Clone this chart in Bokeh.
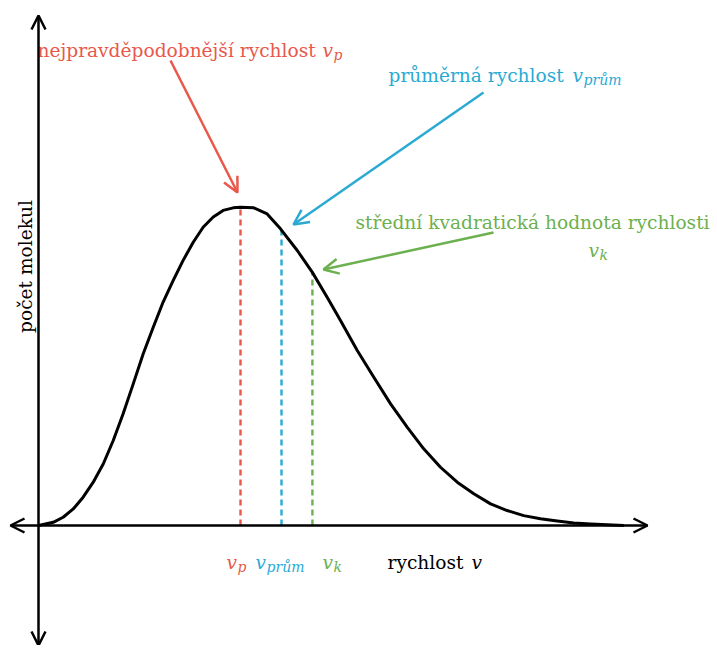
import math
from bokeh.plotting import figure
from bokeh.models import ColumnDataSource, Arrow, OpenHead, Range1d
from bokeh.core.properties import value
from bokeh.embed import file_html
from bokeh.resources import INLINE

# ---- data (speed in units of v_p, count relative to peak) ----
speed = [0.0, 0.073, 0.122, 0.172, 0.221, 0.271, 0.321, 0.370, 0.419, 0.469, 0.518,
         0.568, 0.617, 0.667, 0.716, 0.766, 0.815, 0.865, 0.914, 0.964, 1.0,
         1.066, 1.132, 1.198, 1.281, 1.355, 1.429, 1.495, 1.578, 1.660, 1.743,
         1.825, 1.907, 1.990, 2.073, 2.155, 2.238, 2.320, 2.402, 2.485, 2.568,
         2.650, 2.733, 2.815, 2.898]
count = [0.0, 0.010, 0.026, 0.052, 0.089, 0.136, 0.194, 0.267, 0.351, 0.445, 0.539,
         0.623, 0.702, 0.770, 0.833, 0.890, 0.937, 0.969, 0.990, 0.998, 1.0,
         0.998, 0.979, 0.932, 0.864, 0.796, 0.717, 0.644, 0.550, 0.466, 0.382,
         0.309, 0.241, 0.183, 0.136, 0.100, 0.068, 0.047, 0.031, 0.021, 0.014,
         0.008, 0.005, 0.002, 0.0]

marker_names = ["p", "prům", "k"]
marker_speed = [1.0, 1.203, 1.356]
marker_height = [1.0, 0.930, 0.796]
marker_colors = ["#e8584b", "#2aaad3", "#6cb04f"]

title_vp = "nejpravděpodobnější rychlost "
title_vprum = "průměrná rychlost "
title_vk = "střední kvadratická hodnota rychlosti"
x_label = "rychlost "
y_label = "počet molekul"

W, H = 712, 645
px_per_x = 202.0
px_per_y = 318.3
x0_px, y0_px = 38.0, 525.0

p = figure(width=W, height=H, output_backend="svg", toolbar_location=None,
           x_range=Range1d(-x0_px / px_per_x, (W - x0_px) / px_per_x),
           y_range=Range1d(-(H - y0_px) / px_per_y, y0_px / px_per_y),
           min_border=0, outline_line_color=None)
p.axis.visible = False
p.grid.visible = False
p.background_fill_color = "white"
p.border_fill_color = "white"

FONT = value("DejaVu Serif")
FS = "18.6px"
SUB = "14px"

def X(px):
    return (px - x0_px) / px_per_x

def Y(py):
    return (y0_px - py) / px_per_y

# axes with arrowheads
p.add_layout(Arrow(start=OpenHead(size=14, line_width=2.5, line_color="black"),
                   end=OpenHead(size=14, line_width=2.5, line_color="black"),
                   x_start=X(10), y_start=0, x_end=X(647), y_end=0,
                   line_width=2.5, line_color="black"))
p.add_layout(Arrow(start=OpenHead(size=14, line_width=2.5, line_color="black"),
                   end=OpenHead(size=14, line_width=2.5, line_color="black"),
                   x_start=0, y_start=Y(645), x_end=0, y_end=Y(15),
                   line_width=2.5, line_color="black"))

# dashed marker lines
msrc = ColumnDataSource(dict(x=marker_speed, y0=[0] * 3, y1=marker_height, c=marker_colors))
p.segment(x0="x", y0="y0", x1="x", y1="y1", source=msrc, line_color="c",
          line_width=2.4, line_dash="6 4")

# distribution curve
p.line(speed, count, line_color="black", line_width=3, line_join="round")

# annotation arrows
def arrow(xs, ys, xe, ye, col):
    p.add_layout(Arrow(end=OpenHead(size=15, line_width=2.5, line_color=col),
                       x_start=X(xs), y_start=Y(ys), x_end=X(xe), y_end=Y(ye),
                       line_width=2.5, line_color=col))

arrow(170, 60, 237, 192, marker_colors[0])
arrow(483, 92, 293, 224, marker_colors[1])
arrow(493, 232, 323, 269, marker_colors[2])

def txt(x, y, s, col, size=FS, style="normal", align="left"):
    p.text(x=[x], y=[y], text=[s], text_color=col, text_font=FONT,
           text_font_size=size, text_font_style=style, text_align=align,
           text_baseline="alphabetic")

def math_v(xpx, ypx, sub, col):
    txt(X(xpx), Y(ypx), "v", col, style="italic")
    if sub:
        txt(X(xpx + 11), Y(ypx + 4), sub, col, size=SUB, style="italic")

# top labels
txt(X(37), Y(50), title_vp, marker_colors[0])
math_v(322, 50, marker_names[0], marker_colors[0])
txt(X(388), Y(75), title_vprum, marker_colors[1])
math_v(572, 75, marker_names[1], marker_colors[1])
txt(X(355), Y(222), title_vk, marker_colors[2])
math_v(588, 250, marker_names[2], marker_colors[2])

# bottom labels
math_v(226, 562, marker_names[0], marker_colors[0])
math_v(255, 562, marker_names[1], marker_colors[1])
math_v(322, 562, marker_names[2], marker_colors[2])
txt(X(387), Y(562), x_label, "black")
math_v(471, 562, "", "black")

# y label
p.text(x=[X(25)], y=[Y(266)], text=[y_label], text_color="black", text_font=FONT,
       text_font_size=FS, angle=math.pi / 2, text_align="center",
       text_baseline="middle")

open("out.html", "w").write(file_html(p, INLINE))
